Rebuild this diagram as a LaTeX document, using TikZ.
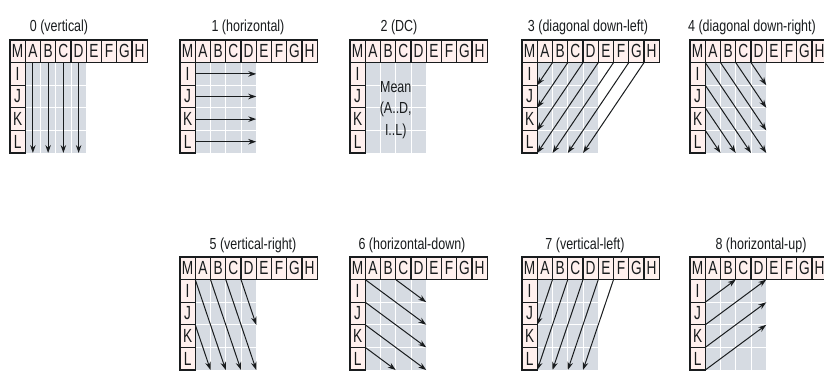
\documentclass[tikz,border=0pt]{standalone}
\usepackage{fontspec}
\setmainfont{Liberation Sans}
\newfontfamily\cellfont[FakeStretch=0.72]{Liberation Sans}
\newfontfamily\titlefont[FakeStretch=0.78]{Liberation Sans}
\usetikzlibrary{arrows.meta}
\definecolor{greyfill}{RGB}{214,219,226}
\definecolor{cellfill}{RGB}{255,240,238}
\definecolor{inkcol}{RGB}{25,28,30}
\tikzset{
  cellbox/.style={draw=inkcol, line width=1.2pt, fill=cellfill, minimum width=15.25pt,
    minimum height=22.6pt, inner sep=0pt, text=inkcol,
    font=\cellfont\fontsize{19}{19}\selectfont},
  gridline/.style={draw=white, line width=0.8pt},
  predarrow/.style={draw=inkcol, line width=1pt, -{Stealth[length=8pt,width=5.5pt]}},
  paneltitle/.style={text=inkcol, inner sep=0pt, font=\titlefont\fontsize{16}{16}\selectfont},
  panelpos/.style 2 args={shift={(#1,#2)}, x=15.25pt, y=-22.6pt}
}
\newcommand\drawgrid[1]{%
  \fill[greyfill] (1,1) rectangle (5,5);
  \foreach \g in {2,3,4} {\draw[gridline] (\g,1) -- (\g,5); \draw[gridline] (1,\g) -- (5,\g);}
  \foreach \l [count=\i from 0] in {M,A,B,C,D,E,F,G,H} {\node[cellbox] (#1\l) at (\i+0.5,0.5) {\l};}
  \foreach \l [count=\i from 1] in {I,J,K,L} {\node[cellbox] (#1\l) at (0.5,\i+0.5) {\l};}
}
\begin{document}
\begin{tikzpicture}[x=1pt,y=-1pt]
\useasboundingbox (0,0) rectangle (824,376);
\fill[white] (0,0) rectangle (824,376);

% titles
\node[paneltitle] (t0) at (59,27) {0 (vertical)};
\node[paneltitle] (t1) at (248,27) {1 (horizontal)};
\node[paneltitle] (t2) at (399,27) {2 (DC)};
\node[paneltitle] (t3) at (588,27) {3 (diagonal down-left)};
\node[paneltitle] (t4) at (752,27) {4 (diagonal down-right)};
\node[paneltitle] (t5) at (253,245) {5 (vertical-right)};
\node[paneltitle] (t6) at (412,245) {6 (horizontal-down)};
\node[paneltitle] (t7) at (585,245) {7 (vertical-left)};
\node[paneltitle] (t8) at (761,245) {8 (horizontal-up)};

% 0 vertical
\begin{scope}[panelpos={10}{40}]
  \drawgrid{p0}
  \foreach \c in {1.5,2.5,3.5,4.5} {\draw[predarrow] (\c,1) -- (\c,5);}
\end{scope}

% 1 horizontal
\begin{scope}[panelpos={180}{40}]
  \drawgrid{p1}
  \foreach \r in {1.5,2.5,3.5,4.5} {\draw[predarrow] (1,\r) -- (5,\r);}
\end{scope}

% 2 DC
\begin{scope}[panelpos={350}{40}]
  \drawgrid{p2}
  \node[align=center, text=inkcol, font=\titlefont\fontsize{16}{21.5}\selectfont] (mean) at (3,3.1) {Mean\\(A..D,\\I..L)};
\end{scope}

% 3 diagonal down-left
\begin{scope}[panelpos={522}{40}]
  \drawgrid{p3}
  \foreach \k in {2,3,4,5} {\draw[predarrow] (\k,1) -- (1,\k);}
  \foreach \k in {6,7,8} {\draw[predarrow] (\k,1) -- ({\k-4},5);}
\end{scope}

% 4 diagonal down-right
\begin{scope}[panelpos={690}{40}]
  \drawgrid{p4}
  \draw[predarrow] (1,1) -- (5,5);
  \draw[predarrow] (2,1) -- (5,4);
  \draw[predarrow] (3,1) -- (5,3);
  \draw[predarrow] (4,1) -- (5,2);
  \draw[predarrow] (1,2) -- (4,5);
  \draw[predarrow] (1,3) -- (3,5);
  \draw[predarrow] (1,4) -- (2,5);
\end{scope}

% 5 vertical-right
\begin{scope}[panelpos={180}{257}]
  \drawgrid{p5}
  \draw[predarrow] (1,1) -- (3,5);
  \draw[predarrow] (2,1) -- (4,5);
  \draw[predarrow] (3,1) -- (5,5);
  \draw[predarrow] (4,1) -- (5,3);
  \draw[predarrow] (1,3) -- (2,5);
\end{scope}

% 6 horizontal-down
\begin{scope}[panelpos={350}{257}]
  \drawgrid{p6}
  \draw[predarrow] (1,1) -- (5,3);
  \draw[predarrow] (3,1) -- (5,2);
  \draw[predarrow] (1,2) -- (5,4);
  \draw[predarrow] (1,3) -- (5,5);
  \draw[predarrow] (1,4) -- (3,5);
\end{scope}

% 7 vertical-left
\begin{scope}[panelpos={522}{257}]
  \drawgrid{p7}
  \draw[predarrow] (2,1) -- (1,3);
  \draw[predarrow] (3,1) -- (1,5);
  \draw[predarrow] (4,1) -- (2,5);
  \draw[predarrow] (5,1) -- (3,5);
  \draw[predarrow] (6,1) -- (4,5);
\end{scope}

% 8 horizontal-up
\begin{scope}[panelpos={690}{257}]
  \drawgrid{p8}
  \draw[predarrow] (1,2) -- (3,1);
  \draw[predarrow] (1,3) -- (5,1);
  \draw[predarrow] (1,4) -- (5,2);
  \draw[predarrow] (1,5) -- (5,3);
\end{scope}
\end{tikzpicture}
\end{document}
